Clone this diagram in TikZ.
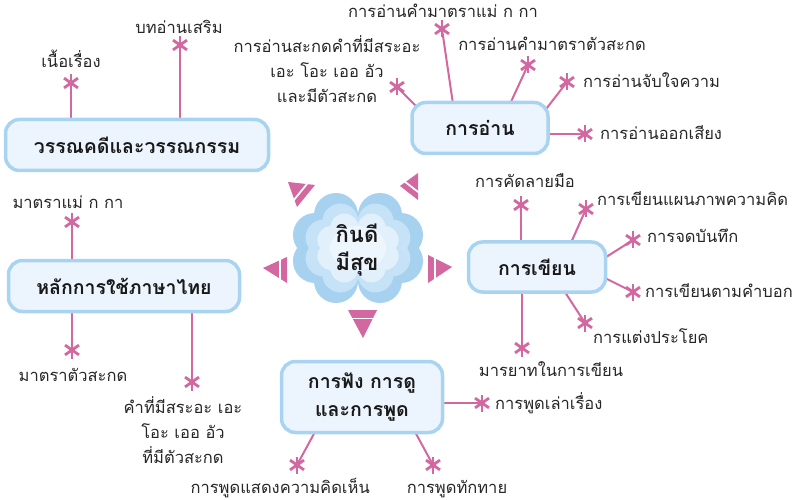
\documentclass[tikz,border=0pt]{standalone}
\usepackage{fontspec}
\setmainfont[Script=Thai]{Loma}
\usetikzlibrary{calc,backgrounds}
\definecolor{pinkc}{HTML}{D3679F}
\definecolor{boxborder}{HTML}{A9D4F1}
\definecolor{boxfill}{HTML}{ECF5FD}
\definecolor{fla}{HTML}{A6D2F0}
\definecolor{flb}{HTML}{C6E2F6}
\definecolor{flc}{HTML}{E2F0FB}
\definecolor{fld}{HTML}{EEF6FD}
\tikzset{
 topicbox/.style={draw=boxborder, fill=boxfill, line width=3.5pt, rounded corners=14pt,
   font=\fontsize{19.5}{28}\selectfont\bfseries, align=center, inner sep=0pt, text=black!90},
 leafstar/.style={circle, minimum size=20pt, inner sep=0pt,
   path picture={\foreach \a in {90,270,35,145,215,325}
     \draw[pinkc,line width=2.8pt] (path picture bounding box.center) -- ++(\a:8.5pt);}},
 leaftext/.style={font=\fontsize{16.5}{25}\selectfont, inner sep=0pt, align=center, text=black!85},
 connector/.style={draw=pinkc, line width=2pt},
 arrowtri/.style={fill=pinkc},
}
\begin{document}
\begin{tikzpicture}[x=1pt,y=-1pt]
\useasboundingbox (0,0) rectangle (796,500);

% flower
\foreach \dx/\dy in {-22/-33,22/-33,-22/33,22/33,-43/-13,43/-13,-43/13,43/13}
  \fill[fla] ({358+\dx},{248+\dy}) circle[radius=22pt];
\foreach \dx/\dy in {-22/-33,22/-33,-22/33,22/33,-43/-13,43/-13,-43/13,43/13}
  \fill[flb] ({358+0.8*\dx},{248+0.8*\dy}) circle[radius=18pt];
\foreach \dx/\dy in {-22/-33,22/-33,-22/33,22/33,-43/-13,43/-13,-43/13,43/13}
  \fill[flc] ({358+0.62*\dx},{248+0.62*\dy}) circle[radius=14pt];
\fill[fld] (358,248) ellipse[x radius=28pt, y radius=22pt];
\node[font=\fontsize{22}{28}\selectfont\bfseries, align=center, anchor=base, inner sep=0pt, text=black!90] (core) at (357,270) {กินดี\\มีสุข};

% pointer triangles
\foreach \ax/\ay/\bx/\by/\cx/\cy in {288/182/315/185/297/207, 418/173/400/186/418/200,
    263/268/287/257/287/283, 452/267/428/255/428/283, 363/338/348/310/377/310}{
  \fill[arrowtri] (\ax,\ay) -- (\bx,\by) -- (\cx,\cy) -- cycle;
  \draw[white, line width=1.8pt, shorten <=-3pt, shorten >=-3pt]
    ($(\ax,\ay)!0.7!(\bx,\by)$) -- ($(\ax,\ay)!0.7!(\cx,\cy)$);
}

% topic boxes
\node[topicbox, minimum width=263pt, minimum height=51pt] (wc) at (137,145) {วรรณคดีและวรรณกรรม};
\node[topicbox, minimum width=136pt, minimum height=51pt] (ra) at (480,128) {การอ่าน};
\node[topicbox, minimum width=137pt, minimum height=50pt] (wr) at (537,267) {การเขียน};
\node[topicbox, minimum width=231pt, minimum height=51pt] (th) at (124,286) {หลักการใช้ภาษาไทย};
\node[topicbox, minimum width=161pt, minimum height=71pt] (ls) at (362,397) {การฟัง การดู\\และการพูด};

% leaves of wc
\node[leafstar] (wcs1) at (71,83) {};
\node[leaftext, anchor=base] (wct1) at (71,68) {เนื้อเรื่อง};
\node[leafstar] (wcs2) at (180,45) {};
\node[leaftext, anchor=base] (wct2) at (179,34) {บทอ่านเสริม};

% leaves of ra
\node[leafstar] (ras1) at (442,29) {};
\node[leaftext, anchor=base] (rat1) at (443,18) {การอ่านคำมาตราแม่ ก กา};
\node[leafstar] (ras2) at (528,65) {};
\node[leaftext, anchor=base] (rat2) at (552,51) {การอ่านคำมาตราตัวสะกด};
\node[leafstar] (ras3) at (567,82) {};
\node[leaftext, anchor=base west] (rat3) at (583,88) {การอ่านจับใจความ};
\node[leafstar] (ras4) at (585,134) {};
\node[leaftext, anchor=base west] (rat4) at (600,140) {การอ่านออกเสียง};
\node[leafstar] (ras5) at (397,87) {};
\node[leaftext, anchor=base] (rat5) at (327,103) {การอ่านสะกดคำที่มีสระอะ\\เอะ โอะ เออ อัว\\และมีตัวสะกด};

% leaves of wr
\node[leafstar] (wrs1) at (521,205) {};
\node[leaftext, anchor=base] (wrt1) at (525,188) {การคัดลายมือ};
\node[leafstar] (wrs2) at (586,209) {};
\node[leaftext, anchor=base west] (wrt2) at (597,206) {การเขียนแผนภาพความคิด};
\node[leafstar] (wrs3) at (633,240) {};
\node[leaftext, anchor=base west] (wrt3) at (647,243) {การจดบันทึก};
\node[leafstar] (wrs4) at (633,292) {};
\node[leaftext, anchor=base west] (wrt4) at (645,298) {การเขียนตามคำบอก};
\node[leafstar] (wrs5) at (585,323) {};
\node[leaftext, anchor=base west] (wrt5) at (593,343) {การแต่งประโยค};
\node[leafstar] (wrs6) at (522,348) {};
\node[leaftext, anchor=base] (wrt6) at (551,376) {มารยาทในการเขียน};

% leaves of th
\node[leafstar] (ths1) at (72,222) {};
\node[leaftext, anchor=base] (tht1) at (68,209) {มาตราแม่ ก กา};
\node[leafstar] (ths2) at (72,350) {};
\node[leaftext, anchor=base] (tht2) at (73,381) {มาตราตัวสะกด};
\node[leafstar] (ths3) at (192,382) {};
\node[leaftext, anchor=base] (tht3) at (183,463) {คำที่มีสระอะ เอะ\\โอะ เออ อัว\\ที่มีตัวสะกด};

% leaves of ls
\node[leafstar] (lss1) at (482,403) {};
\node[leaftext, anchor=base west] (lst1) at (495,409) {การพูดเล่าเรื่อง};
\node[leafstar] (lss2) at (433,465) {};
\node[leaftext, anchor=base] (lst2) at (457,493) {การพูดทักทาย};
\node[leafstar] (lss3) at (297,465) {};
\node[leaftext, anchor=base east] (lst3) at (370,493) {การพูดแสดงความคิดเห็น};

% connectors
\begin{scope}[on background layer]
\draw[connector] (wcs1.center) -- (wcs1.center |- wc.center);
\draw[connector] (wcs2.center) -- (wcs2.center |- wc.center);
\draw[connector] (ras1.center) -- ([shift={(-27,-24)}]ra.center);
\draw[connector] (ras2.center) -- ([shift={(30,-24)}]ra.center);
\draw[connector] (ras3.center) -- ([shift={(63,-15)}]ra.center);
\draw[connector] (ras4.center) -- ([shift={(66,6)}]ra.center);
\draw[connector] (ras5.center) -- ([shift={(-60,-18)}]ra.center);
\draw[connector] (wrs1.center) -- (wrs1.center |- wr.center);
\draw[connector] (wrs2.center) -- ([shift={(33,-22)}]wr.center);
\draw[connector] (wrs3.center) -- ([shift={(66,-8)}]wr.center);
\draw[connector] (wrs4.center) -- ([shift={(66,10)}]wr.center);
\draw[connector] (wrs5.center) -- ([shift={(26,22)}]wr.center);
\draw[connector] (wrs6.center) -- (wrs6.center |- wr.center);
\draw[connector] (ths1.center) -- (ths1.center |- th.center);
\draw[connector] (ths2.center) -- (ths2.center |- th.center);
\draw[connector] (ths3.center) -- (ths3.center |- th.center);
\draw[connector] (lss1.center) -- (lss1.center -| ls.center);
\draw[connector] (lss2.center) -- ([shift={(52,33)}]ls.center);
\draw[connector] (lss3.center) -- ([shift={(-46,33)}]ls.center);
\end{scope}
\end{tikzpicture}
\end{document}
